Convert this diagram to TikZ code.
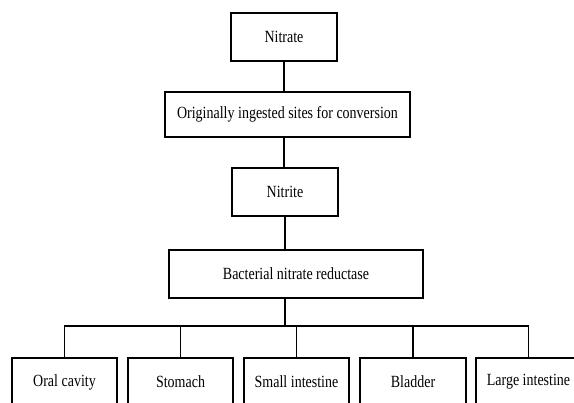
\documentclass[tikz,border=0pt]{standalone}
\usepackage{fontspec}
\setmainfont{Liberation Serif}
\begin{document}
\begin{tikzpicture}[x=1pt,y=-1pt,
  box/.style={draw,line width=1.3pt,rectangle,inner sep=0pt,
    font=\fontsize{14}{15}\selectfont},
  link/.style={line width=1.1pt}]
\useasboundingbox (0,0) rectangle (574,403);
\newcommand{\tx}[1]{\scalebox{1}[1.22]{#1}}
\node[box,minimum width=106pt,minimum height=48pt] (nitrate) at (284,37) {\tx{Nitrate}};
\node[box,minimum width=245pt,minimum height=45pt] (orig) at (287.5,114.5) {\tx{Originally ingested sites for conversion}};
\node[box,minimum width=106pt,minimum height=48pt] (nitrite) at (285,192) {\tx{Nitrite}};
\node[box,minimum width=254pt,minimum height=48pt] (bact) at (296,274) {\tx{Bacterial nitrate reductase}};
\node[box,minimum width=105pt,minimum height=48pt] (oral) at (64.5,382) {\tx{Oral cavity}};
\node[box,minimum width=105pt,minimum height=48pt] (stom) at (180.5,382) {\tx{Stomach}};
\node[box,minimum width=105pt,minimum height=48pt] (small) at (296.5,382) {\tx{Small intestine}};
\node[box,minimum width=106pt,minimum height=48pt] (blad) at (413,382) {\tx{Bladder}};
\node[box,minimum width=105pt,minimum height=48pt] (large) at (528.5,382) {\tx{Large intestine}};
\coordinate (s2) at (284,137);
\coordinate (s3) at (285,298);
\coordinate (bus) at (285,326);
\draw[link] (nitrate.south) -- (nitrate.south |- orig.north);
\draw[link] (s2) -- (s2 |- nitrite.north);
\draw[link] (nitrite.south) -- (nitrite.south |- bact.north);
\draw[link] (s3) -- (bus);
\draw[link] (oral.north) -- (oral.north |- bus) -- (large.north |- bus) -- (large.north);
\foreach \n in {stom,small,blad}{\draw[link] (\n.north) -- (\n.north |- bus);}
\end{tikzpicture}
\end{document}
